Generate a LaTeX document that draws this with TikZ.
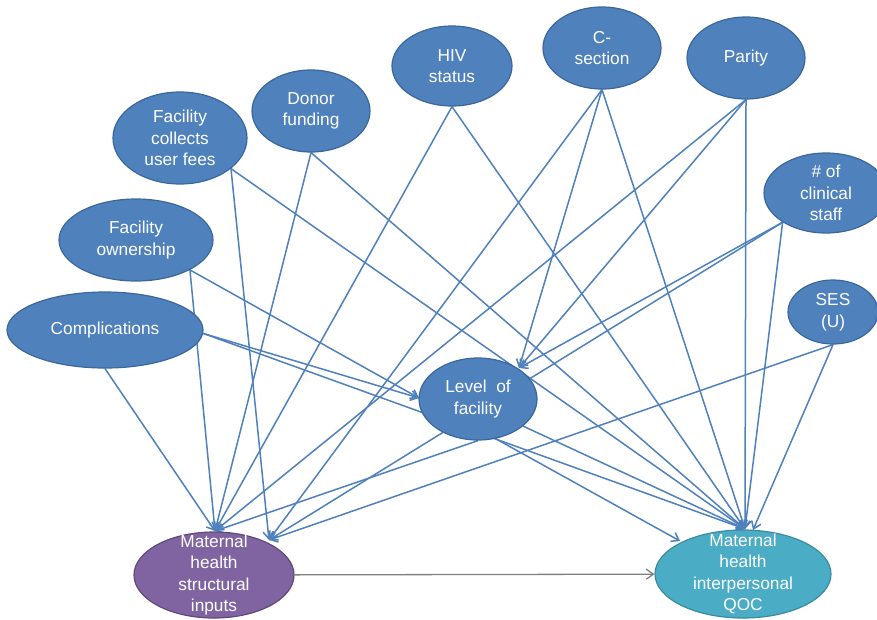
\documentclass[tikz,border=0pt]{standalone}
\usepackage{fontspec}
\setmainfont{Liberation Sans}
\usetikzlibrary{shapes.geometric,arrows.meta}
\pgfdeclarelayer{bg}
\pgfsetlayers{bg,main}
\definecolor{nodeblue}{HTML}{4F81BD}
\definecolor{nodeedge}{HTML}{3A679C}
\definecolor{nodepurple}{HTML}{8064A2}
\definecolor{purpleedge}{HTML}{5F4A7A}
\definecolor{nodeteal}{HTML}{4BACC6}
\definecolor{tealedge}{HTML}{3A8AA0}
\definecolor{linkblue}{HTML}{4F81BD}
\definecolor{linkgray}{HTML}{808080}
\begin{document}
\begin{tikzpicture}[x=1pt,y=-1pt,
  ell/.style={ellipse, draw=nodeedge, line width=1.2pt, fill=nodeblue, inner sep=0pt},
  purpleell/.style={ell, draw=purpleedge, fill=nodepurple},
  tealell/.style={ell, draw=tealedge, fill=nodeteal},
  lab/.style={text=white, align=center, inner sep=0pt, font=\fontsize{17.3}{21.5}\selectfont},
  link/.style={draw=linkblue, line width=1.5pt, -{Straight Barb[length=7pt,width=10pt]}},
  graylink/.style={draw=linkgray, line width=1.3pt, -{Straight Barb[length=7pt,width=10pt]}}
]
\useasboundingbox (0,0) rectangle (877,619);

% nodes
\node[ell, minimum width=134pt, minimum height=92pt, label={[lab]center:Facility\\collects\\user fees}] (fees) at (180,138) {};
\node[ell, minimum width=118pt, minimum height=82pt, label={[lab]center:Donor\\funding}] (donor) at (311,111) {};
\node[ell, minimum width=120pt, minimum height=80pt, label={[lab]center:HIV\\status}] (hiv) at (452,66) {};
\node[ell, minimum width=118pt, minimum height=82pt, label={[lab]center:C-\\section}] (cs) at (602,48) {};
\node[ell, minimum width=118pt, minimum height=82pt, label={[lab]center:Parity}] (par) at (746,58) {};
\node[ell, minimum width=124pt, minimum height=80pt, label={[lab]center:\# of\\clinical\\staff}] (staff) at (826,193) {};
\node[ell, minimum width=90pt, minimum height=64pt, label={[lab]center:SES\\(U)}] (ses) at (833,312) {};
\node[ell, minimum width=154pt, minimum height=82pt, label={[lab]center:Facility\\ownership}] (own) at (136,240) {};
\node[ell, minimum width=196pt, minimum height=76pt, label={[lab]center:Complications}] (comp) at (105,330) {};
\node[ell, minimum width=118pt, minimum height=82pt, label={[lab]center:Level~~of\\facility}] (lev) at (478,399) {};
\node[purpleell, minimum width=160pt, minimum height=86pt, label={[lab]center:Maternal\\health\\structural\\inputs}] (sin) at (214,575) {};
\node[tealell, minimum width=176pt, minimum height=88pt, label={[lab]center:Maternal\\health\\interpersonal\\QOC}] (qoc) at (743,574) {};

% arrow end points
\coordinate (sinL) at (215,531);
\coordinate (sinR) at (269,540);
\coordinate (qocC) at (745,529);
\coordinate (qocC2) at (753,530);
\coordinate (qocL) at (680,541);
\coordinate (levL) at (419,398);
\coordinate (levTR) at (519,368);

\begin{pgfonlayer}{bg}
\fill[white] (0,0) rectangle (877,619);
\draw[link] (fees.-31) -- (sinR);
\draw[link] (fees.-31) -- (qocC);
\draw[link] (donor.south) -- (sinL);
\draw[link] (donor.south) -- (qocC);
\draw[link] (hiv.south) -- (sinL);
\draw[link] (hiv.south) -- (qocC);
\draw[link] (cs.south) -- (sinR);
\draw[link] (cs.south) -- (levTR);
\draw[link] (cs.south) -- (qocC);
\draw[link] (par.south) -- (sinL);
\draw[link] (par.south) -- (levTR);
\draw[link] (par.south) -- (qocC);
\draw[link] (staff.-146) -- (sinR);
\draw[link] (staff.-146) -- (levTR);
\draw[link] (staff.-146) -- (qocC);
\draw[link] (ses.south) -- (sinR);
\draw[link] (ses.south) -- (qocC2);
\draw[link] (own.-29) -- (sinL);
\draw[link] (own.-29) -- (levL);
\draw[link] (comp.-2) -- (levL);
\draw[link] (comp.-2) -- (qocC);
\draw[link] (comp.south) -- (sinL);
\draw[link] (lev.south) -- (sinL);
\draw[link] (lev.-31) -- (qocC);
\draw[link] (lev.-66) -- (qocL);
\end{pgfonlayer}
\draw[graylink] (sin) -- (qoc);
\end{tikzpicture}
\end{document}
